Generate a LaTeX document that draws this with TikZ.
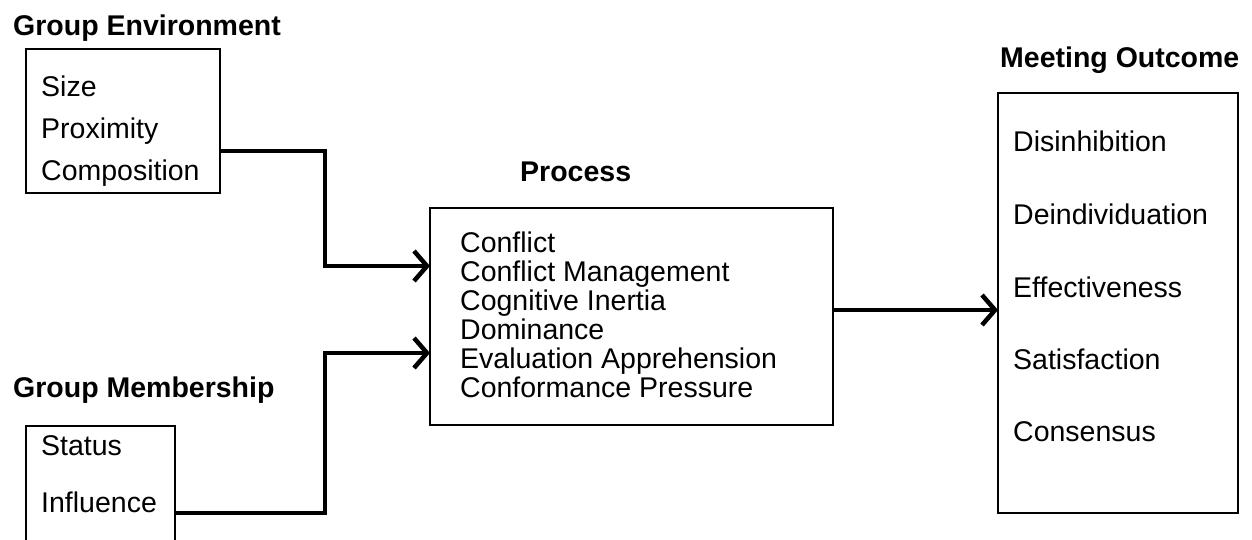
\documentclass[tikz,border=0pt]{standalone}
\usepackage{fontspec}
\setmainfont{Liberation Sans}
\usetikzlibrary{arrows.meta}

\tikzset{
	box/.style={draw,line width=2pt,anchor=north west,inner sep=0pt,outer sep=0pt},
	item/.style={anchor=base west,inner sep=0pt},
	head/.style={anchor=base west,inner sep=0pt,font=\bfseries},
	link/.style={line width=4.5pt,-{Straight Barb[length=13pt,width=30pt,line width=4.5pt]}},
}

\begin{document}
\begin{tikzpicture}[x=1pt,y=-1pt]
	\fontsize{28.5}{28.7}\selectfont
	\clip (0,0) rectangle (1252,539);

	% boxes
	\node[box,minimum width=194pt,minimum height=144pt] (env) at (26,49) {};
	\node[box,minimum width=149pt,minimum height=140pt] (memb) at (26,426) {};
	\node[box,minimum width=403pt,minimum height=217pt] (proc) at (430,208) {};
	\node[box,minimum width=240pt,minimum height=420pt] (outc) at (998,93) {};

	% titles
	\node[head] (envt) at (13,35) {Group Environment};
	\node[head] (membt) at (13,397) {Group Membership};
	\node[head] (proct) at (520,181) {Process};
	\node[head] (outct) at (1000,67) {Meeting Outcome};

	% group environment
	\node[item] (size) at (41,96) {Size};
	\node[item] (prox) at (41,138) {Proximity};
	\node[item] (comp) at (41,180) {Composition};

	% group membership
	\node[item] (stat) at (41,455) {Status};
	\node[item] (infl) at (41,512) {Influence};

	% process
	\node[item] (conf) at (460,252) {Conflict};
	\node[item] (cman) at (460,281) {Conflict Management};
	\node[item] (cine) at (460,310) {Cognitive Inertia};
	\node[item] (domi) at (460,339) {Dominance};
	\node[item] (eval) at (460,368) {Evaluation Apprehension};
	\node[item] (cpre) at (460,397) {Conformance Pressure};

	% meeting outcome
	\node[item] (disi) at (1013,151) {Disinhibition};
	\node[item] (dein) at (1013,224) {Deindividuation};
	\node[item] (effe) at (1013,297) {Effectiveness};
	\node[item] (sati) at (1013,369) {Satisfaction};
	\node[item] (cons) at (1013,441) {Consensus};

	% connectors
	\draw[link] (env.east |- 0,151) -| (325,266) -- (proc.west |- 0,266);
	\draw[link] (memb.east |- 0,513) -| (325,353) -- (proc.west |- 0,353);
	\draw[link] (proc.east |- 0,310) -- (outc.west |- 0,310);
\end{tikzpicture}
\end{document}
